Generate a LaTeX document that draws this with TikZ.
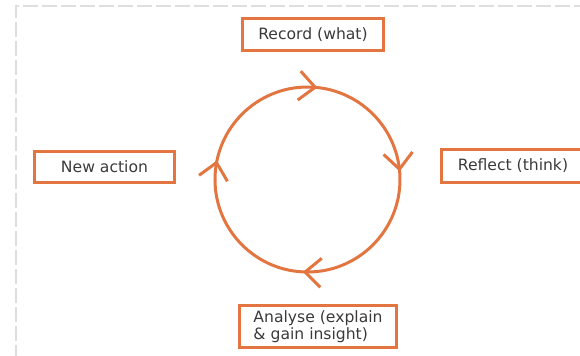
\documentclass[tikz,border=0pt]{standalone}
\usepackage{fontspec}
\setmainfont{DejaVu Sans}
\usetikzlibrary{arrows.meta,positioning,decorations.markings}
\definecolor{cycleorange}{RGB}{226,117,64}
\definecolor{labelgray}{RGB}{58,58,58}
\definecolor{framegray}{RGB}{222,222,222}

\begin{document}
\begin{tikzpicture}[%
	x=0.5pt,y=-0.5pt,>={Straight Barb[length=8pt,width=14.5pt]},
	stage/.style={draw=cycleorange,line width=1.5pt,text=labelgray,
		font=\fontsize{7.8}{8.5}\selectfont,inner sep=0pt},
	cycle mark/.style={postaction={decorate},decoration={markings,
		mark=at position 0.258 with {\arrow{>}},
		mark=at position 0.533 with {\arrow{>}},
		mark=at position 0.767 with {\arrow{>}},
		mark=at position 0.986 with {\arrow{>}}}}]

	\useasboundingbox (0,0) rectangle (580,355);

	% dashed frame
	\coordinate (FL) at (16,360);
	\coordinate (FC) at (16,6);
	\coordinate (FR) at (590,6);
	\draw[framegray,line width=0.8pt,dash pattern=on 7.5pt off 2pt] (FL) -- (FC) -- (FR);

	% the cycle
	\coordinate (C) at (307.5,179.5);
	\draw[cycleorange,line width=1.5pt,cycle mark]
		(C) ++(0:92.5) arc[start angle=0,end angle=360,radius=92.5];

	\node[stage,minimum width=70.5pt,minimum height=16pt]	(record)	at (313,34.5)	{Record (what)};
	\node[stage,minimum width=72pt,minimum height=16.5pt]	(reflect)	at (513,166)	{Reflect (think)};
	\node[stage,minimum width=78.5pt,minimum height=21pt,align=left]	(analyse)	at (318,326.5)	{%
		Analyse (explain\\
		\& gain insight)
	};
	\node[stage,minimum width=70pt,minimum height=15.5pt]	(newaction)	at (104.5,167)	{New action};

\end{tikzpicture}
\end{document}
